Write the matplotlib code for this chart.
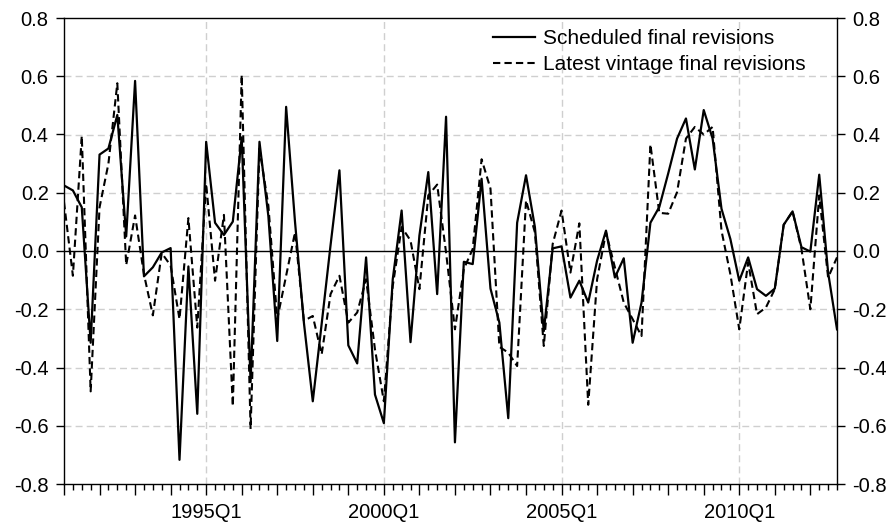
import numpy as np
import pandas as pd
import matplotlib
matplotlib.use("Agg")
import matplotlib.pyplot as plt
from matplotlib.ticker import MultipleLocator, FixedLocator, FuncFormatter

plt.rcParams['font.family'] = ['Liberation Sans', 'DejaVu Sans']

# quarterly revisions, 1991Q1 - 2012Q4
quarters = pd.period_range("1991Q1", periods=88, freq="Q")

scheduled = [
    0.225, 0.208, 0.15, -0.315, 0.331, 0.352, 0.467, 0.05,
    0.584, -0.087, -0.056, -0.005, 0.01, -0.717, -0.053, -0.559,
    0.375, 0.097, 0.055, 0.101, 0.39, -0.45, 0.375, 0.12,
    -0.309, 0.495, 0.1, -0.246, -0.516, -0.25, 0.02, 0.277,
    -0.324, -0.386, -0.022, -0.493, -0.591, -0.097, 0.139, -0.313,
    0.053, 0.271, -0.148, 0.461, -0.657, -0.037, -0.045, 0.248,
    -0.129, -0.246, -0.574, 0.097, 0.26, 0.082, -0.275, 0.009,
    0.016, -0.16, -0.102, -0.177, -0.033, 0.07, -0.091, -0.025,
    -0.315, -0.177, 0.097, 0.151, 0.266, 0.386, 0.455, 0.28,
    0.484, 0.386, 0.145, 0.041, -0.102, -0.022, -0.131, -0.154,
    -0.129, 0.09, 0.136, 0.013, -0.002, 0.262, -0.074, -0.269,
]

latest = [
    0.168, -0.085, 0.395, -0.482, 0.15, 0.30, 0.576, -0.048,
    0.122, -0.08, -0.221, -0.007, -0.05, -0.234, 0.113, -0.263,
    0.231, -0.102, 0.124, -0.533, 0.605, -0.611, 0.352, 0.156,
    -0.234, -0.085, 0.064, -0.24, -0.223, -0.355, -0.148, -0.085,
    -0.246, -0.211, -0.097, -0.338, -0.516, -0.12, 0.082, 0.036,
    -0.131, 0.191, 0.228, -0.005, -0.269, -0.062, 0.007, 0.315,
    0.214, -0.329, -0.349, -0.395, 0.174, 0.064, -0.326, 0.024,
    0.139, -0.074, 0.095, -0.528, -0.097, 0.064, -0.056, -0.177,
    -0.234, -0.292, 0.366, 0.131, 0.128, 0.202, 0.386, 0.426,
    0.40, 0.426, 0.07, -0.08, -0.269, -0.039, -0.217, -0.194,
    -0.131, 0.09, 0.136, 0.007, -0.2, 0.191, -0.091, -0.022,
]

labelled = ["1995Q1", "2000Q1", "2005Q1", "2010Q1"]

qlabels = [str(q) for q in quarters]
x = np.arange(len(quarters))

fig = plt.figure(figsize=(8.96, 5.25), dpi=100)
ax = fig.add_axes([64 / 896, 1 - 484 / 525, (837 - 64) / 896, (484 - 18) / 525])

ax.plot(x, scheduled, color="black", lw=1.6, label="Scheduled final revisions")
ax.plot(x, latest, color="black", lw=1.5, dashes=(3.5, 2),
        label="Latest vintage final revisions")
ax.axhline(0, color="black", lw=1.0, zorder=1)

ax.set_xlim(0, len(x) - 1)
ax.set_ylim(-0.8, 0.8)

# grid
for v in np.arange(-0.6, 0.61, 0.2):
    if abs(v) > 1e-9:
        ax.axhline(v, color="#cfcfcf", lw=1.0, ls=(0, (5, 3)), zorder=0)
lab_pos = [qlabels.index(s) for s in labelled]
for p in lab_pos:
    ax.axvline(p, color="#cfcfcf", lw=1.0, ls=(0, (5, 3)), zorder=0)

# x ticks: years major, quarters minor
year_pos = [i for i, q in enumerate(quarters) if q.quarter == 1]
ax.xaxis.set_major_locator(FixedLocator(year_pos))
ax.xaxis.set_minor_locator(MultipleLocator(1))
ax.set_xticklabels([qlabels[i] if qlabels[i] in labelled else "" for i in year_pos])
ax.tick_params(axis="x", which="major", length=8, width=1, direction="out",
               labelsize=14.5, pad=6)
ax.tick_params(axis="x", which="minor", length=4, width=1, direction="out")

ax.yaxis.set_major_locator(MultipleLocator(0.2))
ax.yaxis.set_major_formatter(FuncFormatter(lambda v, p: "%.1f" % v))
ax.tick_params(axis="y", which="major", length=6, width=1, direction="out",
               labelsize=14.5, pad=5, left=True, right=True,
               labelleft=True, labelright=True)

for s in ax.spines.values():
    s.set_linewidth(1.0)

ax.legend(loc="upper left", frameon=False, fontsize=15, handlelength=2.0,
          handletextpad=0.4, borderpad=0, borderaxespad=0, labelspacing=0.35,
          bbox_to_anchor=((493 - 64) / 773, 0.976))

fig.savefig("out.png", dpi=100)
